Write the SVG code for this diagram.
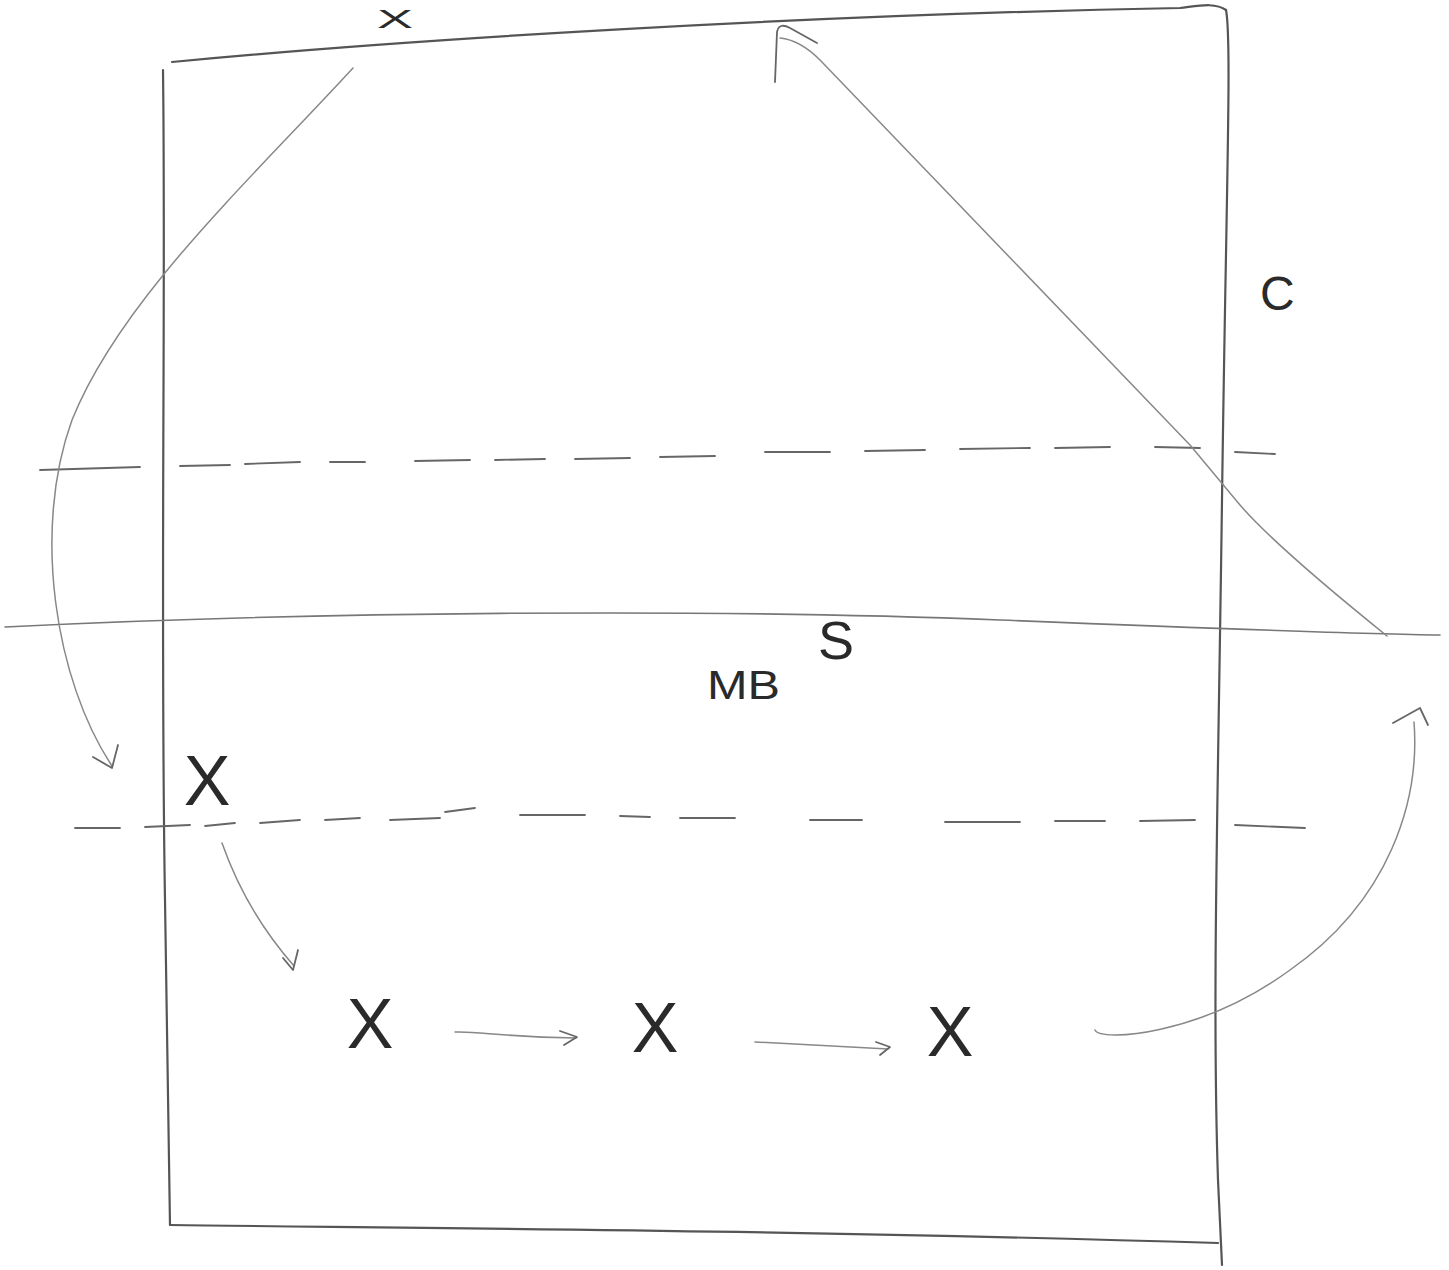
<svg xmlns="http://www.w3.org/2000/svg" width="1449" height="1270" viewBox="0 0 1449 1270">
<style>
.box{fill:none;stroke:#555;stroke-width:2.2;stroke-linecap:round;stroke-linejoin:round}
.axis{fill:none;stroke:#777;stroke-width:1.6;stroke-linecap:round}
.dash{fill:none;stroke:#666;stroke-width:1.8;stroke-linecap:round}
.con{fill:none;stroke:#888;stroke-width:1.5;stroke-linecap:round;stroke-linejoin:round}
.head{fill:none;stroke:#666;stroke-width:1.8;stroke-linecap:round;stroke-linejoin:round}
.lbl{font-family:"Liberation Sans",Arial,sans-serif;fill:#2a2a2a}
.x{font-size:70px;text-anchor:middle}
</style>
<rect width="1449" height="1270" fill="#fff"/>
<g id="frame">
<path class="box" d="M172,62 C400,40 800,15 1180,8 C1198,6 1215,2 1226,10"/>
<path class="box" d="M1226,10 C1232,40 1226,200 1222,500 C1218,800 1212,1000 1218,1180 L1222,1265"/>
<path class="box" d="M163,70 C166,300 160,600 165,900 L170,1225"/>
<path class="box" d="M170,1225 C400,1228 800,1230 1218,1243"/>
</g>
<g id="lines">
<path class="axis" d="M5,627 C300,612 700,608 1000,620 C1200,628 1350,634 1440,635"/>
<path class="dash" d="M40,470 L140,467 M180,466 L230,465 M245,464 L300,462 M330,462 L365,462 M415,461 L470,460 M495,460 L545,459 M575,459 L630,458 M660,457 L715,456 M765,452 L830,452 M865,451 L925,450 M960,449 L1030,448 M1055,448 L1110,447 M1155,447 L1200,448 M1235,452 L1275,454"/>
<path class="dash" d="M75,828 L120,828 M145,827 L190,825 M205,826 L235,823 M260,823 L300,820 M325,820 L360,818 M390,820 L440,818 M445,812 L475,808 M520,815 L585,815 M620,816 L650,817 M680,818 L735,818 M810,820 L862,820 M945,822 L1020,822 M1055,821 L1105,821 M1140,821 L1195,820 M1235,825 L1305,828"/>
</g>
<g id="connectors">
<path class="con" d="M353,68 C250,180 120,300 72,420 C32,530 55,680 112,766"/>
<path class="head" d="M93,757 L112,768 L118,745"/>
<path class="con" d="M1387,636 C1330,590 1270,540 1240,505 L1190,445 L820,60 Q800,40 780,38"/>
<path class="head" d="M775,82 L777,32 Q779,22 790,28 L817,43"/>
<path class="con" d="M222,843 C235,880 258,925 294,966"/>
<path class="head" d="M283,958 L293,970 L298,950"/>
<path class="con" d="M455,1032 C480,1031 500,1037 576,1038"/>
<path class="head" d="M560,1031 L577,1037 L564,1045"/>
<path class="con" d="M755,1042 L888,1049"/>
<path class="head" d="M876,1042 L890,1047 L880,1055"/>
<path class="con" d="M1095,1030 C1100,1042 1200,1036 1290,970 C1390,900 1420,800 1414,722"/>
<path class="head" d="M1393,723 L1420,708 L1428,725"/>
</g>
<g id="node-top-x"><text class="lbl" x="377" y="28" font-size="26" textLength="36" lengthAdjust="spacingAndGlyphs">X</text></g>
<g id="node-x1"><text class="lbl x" x="207" y="805">X</text></g>
<g id="node-x2"><text class="lbl x" x="370" y="1048">X</text></g>
<g id="node-x3"><text class="lbl x" x="655" y="1052">X</text></g>
<g id="node-x4"><text class="lbl x" x="950" y="1056">X</text></g>
<g id="label-c"><text class="lbl" x="1260" y="310" font-size="48">C</text></g>
<g id="label-s"><text class="lbl" x="818" y="659" font-size="54">S</text></g>
<g id="label-mb"><text class="lbl" x="707" y="699" font-size="40" textLength="73" lengthAdjust="spacingAndGlyphs">MB</text></g>
</svg>
